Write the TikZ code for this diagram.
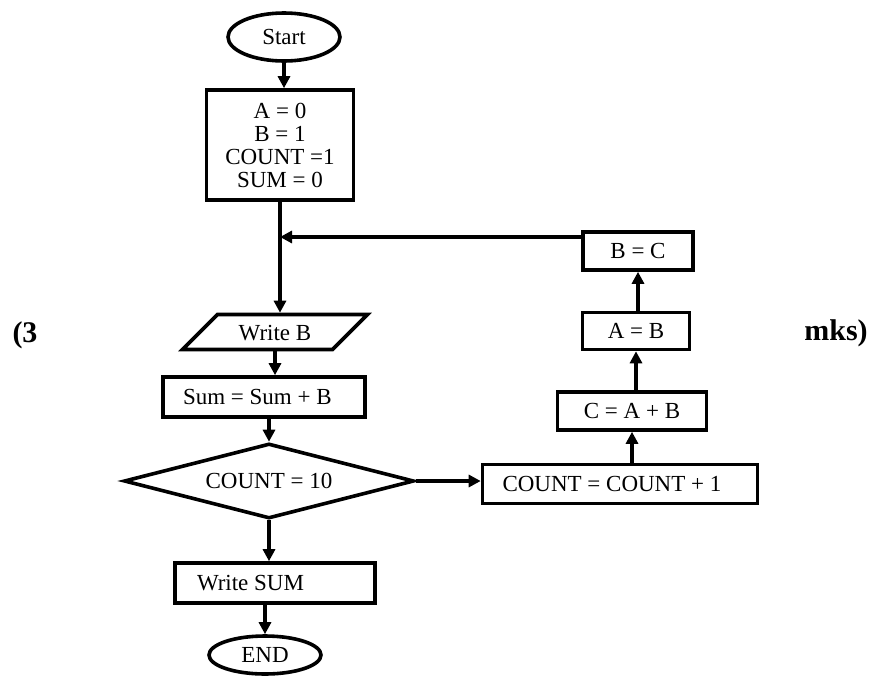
\documentclass[tikz,border=0pt]{standalone}
\usepackage{fontspec}
\setmainfont{Liberation Serif}
\usetikzlibrary{shapes.geometric,arrows.meta}
\begin{document}
\begin{tikzpicture}[x=0.5pt,y=-0.5pt,
  every node/.style={font=\fontsize{11.5}{11.5}\selectfont},
  box/.style={draw,line width=1.8pt,inner sep=0pt},
  term/.style={draw,ellipse,line width=1.8pt,minimum width=56pt,inner sep=0pt},
  io/.style={draw,trapezium,trapezium left angle=45,trapezium right angle=135,
    trapezium stretches body,line width=1.8pt,inner xsep=0pt,inner ysep=4.75pt,
    text height=8pt,text depth=0pt},
  decision/.style={draw,diamond,aspect=3.9,line width=1.8pt,inner sep=0pt},
  arr/.style={line width=1.8pt,-{Triangle[length=6pt,width=6pt]}},
  lbl/.style={font=\bfseries\fontsize{15}{15}\selectfont}]
\useasboundingbox (0,0) rectangle (873,675);
% left column
\node[term,minimum height=24pt] (start) at (284,37) {Start};
\node[box,minimum width=73.5pt,minimum height=55pt,align=center] (init) at (280,145) {A = 0\\B = 1\\COUNT =1\\SUM = 0};
\node[io,minimum width=92.5pt] (wb) at (275,332) {Write B};
\node[box,inner xsep=10pt,minimum height=20pt] (sum) at (264,397) {\makebox[81pt][l]{Sum = Sum + B}};
\node[decision,minimum width=145pt,minimum height=37.5pt] (test) at (269,481) {COUNT = 10};
\node[box,inner xsep=11pt,minimum height=20pt] (ws) at (275,583) {\makebox[78pt][l]{Write SUM}};
\node[term,minimum height=19pt] (end) at (265,655) {END};
% right column
\node[box,inner xsep=10pt,minimum height=19.5pt] (inc) at (620,484) {\makebox[117.5pt][l]{COUNT = COUNT + 1}};
\node[box,minimum width=74.5pt,minimum height=19pt] (cab) at (632,411) {C = A + B};
\node[box,minimum width=53.5pt,minimum height=18.5pt] (ab) at (636,331) {A = B};
\node[box,minimum width=55pt,minimum height=19pt] (bc) at (638,251) {B = C};
\coordinate (join) at (280,237);
% marks
\node[lbl] (mk1) at (25,335) {(3};
\node[lbl] (mk2) at (836,333) {mks)};
% connectors
\draw[arr] (start.south) -- (start.south |- init.north);
\draw[arr] (init.south) -- (init.south |- wb.north);
\draw[arr] (wb.south) -- (wb.south |- sum.north);
\draw[arr] (test.north |- sum.south) -- (test.north);
\draw[arr] (test.east) -- (test.east -| inc.west);
\draw[arr] (test.south) -- (test.south |- ws.north);
\draw[arr] (end.north |- ws.south) -- (end.north);
\draw[arr] (inc.north -| cab.south) -- (cab.south);
\draw[arr] (cab.north -| ab.south) -- (ab.south);
\draw[arr] (ab.north -| bc.south) -- (bc.south);
\draw[arr] (bc.west |- join) -- (join);
\end{tikzpicture}
\end{document}
